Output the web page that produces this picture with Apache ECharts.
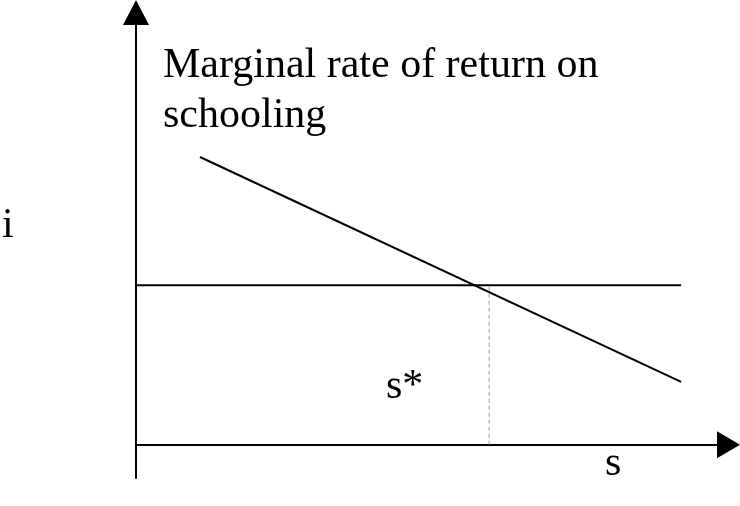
<!DOCTYPE html>
<html>
<head>
<meta charset="utf-8">
<script src="https://cdn.jsdelivr.net/npm/echarts@6/dist/echarts.min.js"></script>
<style>
  html, body { margin: 0; padding: 0; background: #fff; }
  #chart { width: 740px; height: 506px; }
</style>
</head>
<body>
<div id="chart"></div>
<script>
// schooling (s) on x, interest / return (i) on y
const interestLine = [[0, 36], [92, 36]];
const returnLine = [[10.8, 64.9], [92, 14.2]];
const sStarLine = [[59.6, 0], [59.6, 36]];

const titleLines = ['Marginal rate of return on', 'schooling'];
const yName = 'i';
const xName = 's';
const starName = 's*';

const font = '42px "Liberation Serif", "Times New Roman", serif';

const chart = echarts.init(document.getElementById('chart'));
chart.setOption({
  animation: false,
  grid: { left: 136, right: 11.5, top: 12.5, bottom: 28 },
  xAxis: {
    type: 'value', min: 0, max: 100,
    splitLine: { show: false }, axisTick: { show: false }, axisLabel: { show: false },
    axisLine: { onZero: true, lineStyle: { color: '#000', width: 2 }, symbol: ['none', 'triangle'], symbolSize: [27, 23] }
  },
  yAxis: {
    type: 'value', min: -7.5, max: 97.5,
    splitLine: { show: false }, axisTick: { show: false }, axisLabel: { show: false },
    axisLine: { onZero: true, lineStyle: { color: '#000', width: 2 }, symbol: ['none', 'triangle'], symbolSize: [26, 25] }
  },
  series: [
    { type: 'line', data: interestLine, symbol: 'none', lineStyle: { color: '#000', width: 2 } },
    { type: 'line', data: returnLine, symbol: 'none', lineStyle: { color: '#000', width: 2 } },
    { type: 'line', data: sStarLine, symbol: 'none', lineStyle: { color: '#999', width: 1, type: [4, 3] } }
  ],
  graphic: [
    { type: 'text', left: 163, top: 41, style: { text: titleLines.join('\n'), font: font, lineHeight: 50, fill: '#000' } },
    { type: 'text', left: 2, top: 205, style: { text: yName, font: font, lineHeight: 42, fill: '#000' } },
    { type: 'text', left: 386, top: 366, style: { text: starName, font: font, lineHeight: 42, fill: '#000' } },
    { type: 'text', left: 605, top: 443, style: { text: xName, font: font, lineHeight: 42, fill: '#000' } }
  ]
});
</script>
</body>
</html>
